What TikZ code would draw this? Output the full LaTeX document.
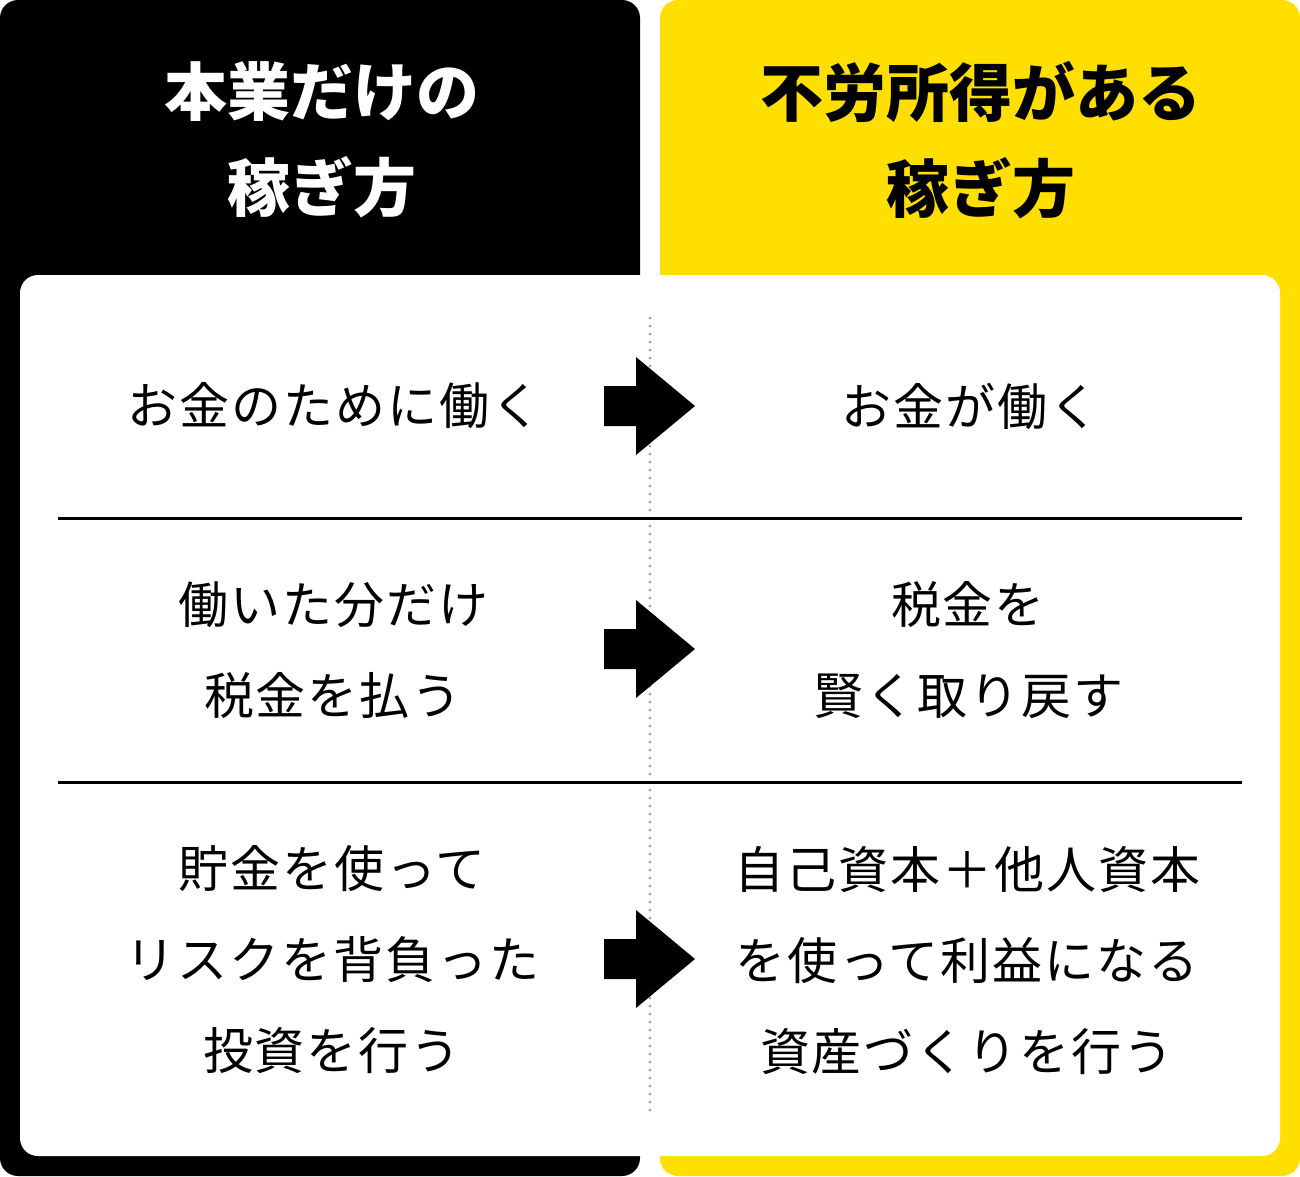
\documentclass[tikz,border=0pt]{standalone}
\usepackage{fontspec}
\newfontfamily\jp{Noto Sans CJK JP}
\newfontfamily\jpsp[LetterSpace=4]{Noto Sans CJK JP}
\definecolor{ylw}{HTML}{FFDF00}
\definecolor{dotgray}{HTML}{A0A0A0}
\tikzset{
  hd/.style={font=\jp\bfseries\fontsize{63}{96}\selectfont, align=center, inner sep=0pt},
  body/.style={font=\jpsp\fontsize{50}{91}\selectfont, align=center, inner sep=0pt, text=black},
  dotline/.style={dotgray, line width=3pt, line cap=round, dash pattern=on 0pt off 8pt},
  rowrule/.style={black, line width=3pt},
  bigarrow/.pic={\fill[black] (-45.5,-20) -- (-13.5,-20) -- (-13.5,-49) -- (45.5,0) -- (-13.5,49) -- (-13.5,20) -- (-45.5,20) -- cycle;}
}
\begin{document}
\begin{tikzpicture}[x=1pt,y=-1pt]
\useasboundingbox (0,0) rectangle (1300,1176);
\fill[black, rounded corners=18pt] (0,0) rectangle (640,1176);
\fill[ylw, rounded corners=18pt] (660,0) rectangle (1300,1176);
\fill[white, rounded corners=18pt] (20,275) rectangle (1280,1156);
\coordinate (dtop) at (650,318);
\coordinate (dbot) at (650,1113);
\draw[dotline] (dtop) -- (dbot);
\coordinate (ra1) at (58,518); \coordinate (rb1) at (1242,518);
\coordinate (ra2) at (58,782); \coordinate (rb2) at (1242,782);
\draw[rowrule] (ra1) -- (rb1);
\draw[rowrule] (ra2) -- (rb2);
\pic at (649.5,406) {bigarrow};
\pic at (649.5,649) {bigarrow};
\pic at (649.5,959) {bigarrow};
\node[hd, text=white] (h1) at (322,140) {本業だけの\\稼ぎ方};
\node[hd, text=black] (h2) at (981,140) {不労所得がある\\稼ぎ方};
\node[body] (l1) at (334,406) {お金のために働く};
\node[body] (l2) at (333,650) {働いた分だけ\\税金を払う};
\node[body] (l3) at (332,960) {貯金を使って\\リスクを背負った\\投資を行う};
\node[body] (r1) at (970,406) {お金が働く};
\node[body] (r2) at (968,650) {税金を\\賢く取り戻す};
\node[body] (r3) at (967,961) {自己資本＋他人資本\\を使って利益になる\\資産づくりを行う};
\end{tikzpicture}
\end{document}
